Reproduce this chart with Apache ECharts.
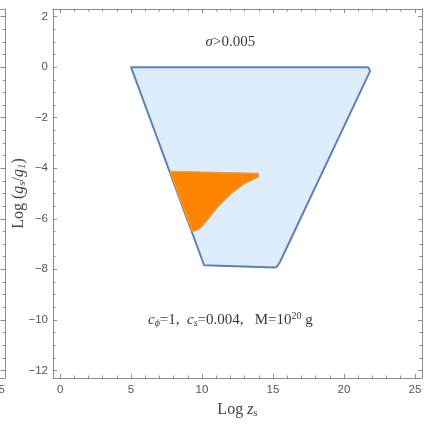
<!DOCTYPE html>
<html><head><meta charset="utf-8">
<script src="https://cdn.jsdelivr.net/npm/echarts@6/dist/echarts.min.js"></script>
<style>html,body{margin:0;padding:0;background:#fff}#c{width:424px;height:425px}</style>
</head><body><div id="c"></div>
<script>
// ---- data ----
const xMajor = [0, 5, 10, 15, 20, 25];
const xMinor = [1, 2, 3, 4, 6, 7, 8, 9, 11, 12, 13, 14, 16, 17, 18, 19, 21, 22, 23, 24];
const yMajor = [-12, -10, -8, -6, -4, -2, 0, 2];
const yMinor = [-11.5, -11, -10.5, -9.5, -9, -8.5, -7.5, -7, -6.5, -5.5, -5, -4.5, -3.5, -3, -2.5, -1.5, -1, -0.5, 0.5, 1, 1.5];
const leftPanelXTick = [25];
// allowed region (sigma > 0.005), light blue
const regionX = [5, 21.7, 21.85, 15.5, 15.3, 15.15, 10.15];
const regionY = [0, 0, -0.15, -7.7, -7.88, -7.93, -7.84];
// excluded / constrained region, orange
const orangeX = [7.75, 13.98, 13.98, 13.0, 12.07, 11.12, 10.5, 10.0, 9.66, 9.45, 9.3];
const orangeY = [-4.12, -4.2, -4.35, -4.61, -5.0, -5.53, -5.96, -6.31, -6.45, -6.49, -6.5];
// annotations
const notePos = [[12, 1], [12, -10]];

const X_MIN = -0.5, X_MAX = 25.5, Y_MIN = -12.3, Y_MAX = 2.3;
const frameColor = '#8c8c8c';
const labelColor = '#555';
const tickFont = 11.5;
const fmt = v => String(v).replace('-', '\u2212');

function xAx(grid, pos, vals, len, showLine, showLabel, extra) {
  return Object.assign({
    type: 'value', gridIndex: grid, position: pos, min: X_MIN, max: X_MAX,
    axisLine: {show: showLine, onZero: false, lineStyle: {color: frameColor, width: 1}},
    axisTick: {show: true, inside: true, length: len, customValues: vals, lineStyle: {color: frameColor}},
    axisLabel: showLabel ? {show: true, customValues: vals, color: labelColor, fontFamily: 'Liberation Sans', fontSize: tickFont, margin: 6, formatter: fmt} : {show: false},
    splitLine: {show: false}
  }, extra || {});
}
function yAx(grid, pos, vals, len, showLine, showLabel, extra) {
  return Object.assign({
    type: 'value', gridIndex: grid, position: pos, min: Y_MIN, max: Y_MAX,
    axisLine: {show: showLine, onZero: false, lineStyle: {color: frameColor, width: 1}},
    axisTick: {show: true, inside: true, length: len, customValues: vals, lineStyle: {color: frameColor}},
    axisLabel: showLabel ? {show: true, customValues: vals, color: labelColor, fontFamily: 'Liberation Sans', fontSize: tickFont, margin: 5, formatter: fmt} : {show: false},
    splitLine: {show: false}
  }, extra || {});
}

const serif = 'Liberation Serif';
const richBase = {
  n: {fontFamily: serif, fontSize: 15, color: '#000', lineHeight: 20, verticalAlign: 'middle'},
  i: {fontFamily: serif, fontSize: 15, fontStyle: 'italic', color: '#000', lineHeight: 20, verticalAlign: 'middle'},
  sub: {fontFamily: serif, fontSize: 10, fontStyle: 'italic', color: '#000', lineHeight: 20, verticalAlign: 'bottom', padding: [0, 0, 1, 0]},
  sup: {fontFamily: serif, fontSize: 10, color: '#000', lineHeight: 20, verticalAlign: 'top', padding: [2, 0, 0, 0]}
};
const richAxis = JSON.parse(JSON.stringify(richBase));
['n', 'i'].forEach(k => { richAxis[k].fontSize = 16; richAxis[k].color = '#444'; });
['sub'].forEach(k => { richAxis[k].fontSize = 11; richAxis[k].color = '#444'; });

const option = {
  animation: false,
  backgroundColor: '#fff',
  grid: [
    {left: 53, top: 9, width: 369, height: 369, containLabel: false, outerBoundsMode: 'none'},
    {left: 0, top: 9, width: 5, height: 369, containLabel: false, outerBoundsMode: 'none'}
  ],
  xAxis: [
    xAx(0, 'bottom', xMajor, 4, true, true, {
      name: '{n|Log }{i|z}{sub|s}', nameLocation: 'middle', nameGap: 22, nameMoveOverlap: false,
      nameTextStyle: {rich: richAxis}
    }),
    xAx(0, 'bottom', xMinor, 2.5, false, false),
    xAx(0, 'top', xMajor, 4, true, false),
    xAx(0, 'top', xMinor, 2.5, false, false),
    xAx(1, 'bottom', leftPanelXTick, 0, true, true, {min: 24.5, max: 25,
      axisLabel: {show: true, customValues: leftPanelXTick, color: labelColor, fontFamily: 'Liberation Sans', fontSize: tickFont, margin: 6, align: 'right'}}),
    xAx(1, 'top', leftPanelXTick, 0, true, false, {min: 24.5, max: 25})
  ],
  yAxis: [
    yAx(0, 'left', yMajor, 4, true, true, {
      name: '{n|Log (}{i|g}{sub|s}{n|/}{i|g}{sub|1}{n|)}', nameLocation: 'middle', nameGap: 24, nameRotate: 90,
      nameMoveOverlap: false,
      nameTextStyle: {rich: richAxis}
    }),
    yAx(0, 'left', yMinor, 2.5, false, false),
    yAx(0, 'right', yMajor, 4, true, false),
    yAx(0, 'right', yMinor, 2.5, false, false),
    yAx(1, 'right', yMajor, 4.5, true, false),
    yAx(1, 'right', yMinor, 2.5, false, false)
  ],
  series: [
    {
      type: 'custom', xAxisIndex: 0, yAxisIndex: 0, z: 2,
      data: regionX.map((x, k) => [x, regionY[k]]),
      renderItem: function (params, api) {
        if (params.dataIndex !== 0) return;
        const pts = regionX.map((x, k) => api.coord([x, regionY[k]]));
        return {type: 'polygon', shape: {points: pts},
          style: {fill: '#deedfc', stroke: '#5e81b5', lineWidth: 2, lineJoin: 'round'}};
      }
    },
    {
      type: 'custom', xAxisIndex: 0, yAxisIndex: 0, z: 3,
      data: orangeX.map((x, k) => [x, orangeY[k]]),
      renderItem: function (params, api) {
        if (params.dataIndex !== 0) return;
        const pts = orangeX.map((x, k) => api.coord([x, orangeY[k]]));
        return {type: 'polygon', shape: {points: pts},
          style: {fill: '#ff8500', stroke: '#eaa040', lineWidth: 1.2, lineJoin: 'round'}};
      }
    },
    {
      type: 'scatter', xAxisIndex: 0, yAxisIndex: 0, z: 5, symbolSize: 0,
      data: [
        {value: notePos[0], label: {formatter: '{i|\u03C3}{n|>0.005}'}},
        {value: notePos[1], label: {formatter: '{i|c}{sub|\u03D5}{n|=1,  }{i|c}{sub|s}{n|=0.004,   M=10}{sup|20}{n| g}'}}
      ],
      label: {show: true, position: 'inside', rich: richBase},
      silent: true
    }
  ]
};
const chart = echarts.init(document.getElementById('c'), null, {renderer: 'canvas'});
chart.setOption(option);
</script>
</body></html>
